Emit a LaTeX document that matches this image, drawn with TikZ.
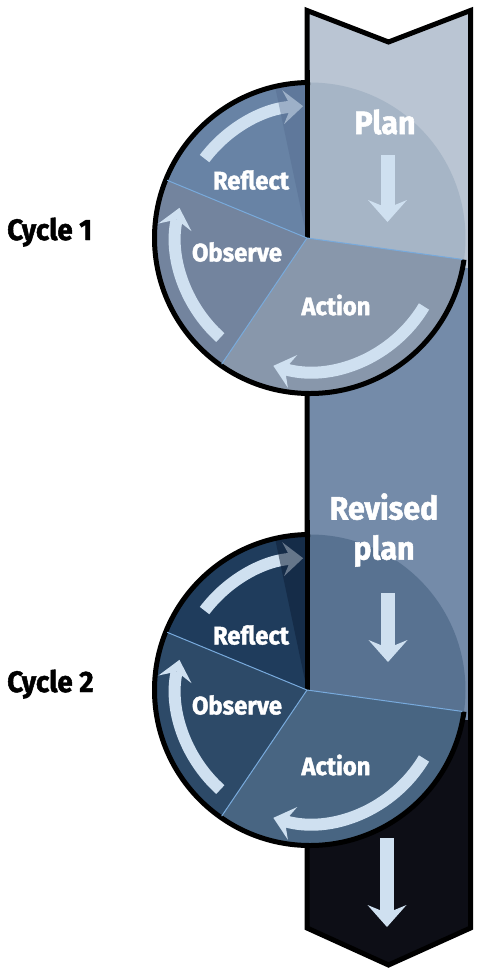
\documentclass[tikz,border=0pt]{standalone}
\usepackage{fontspec}
\setmainfont{Fira Sans}[BoldFeatures={FakeBold=1.6,FakeStretch=0.94}]
\usetikzlibrary{arrows.meta,calc}
\definecolor{bandtop}{RGB}{186,197,211}
\definecolor{bandmid}{RGB}{116,139,169}
\definecolor{bandlow}{RGB}{13,14,22}
\definecolor{planA}{RGB}{166,181,198}
\definecolor{reflectA}{RGB}{104,131,165}
\definecolor{observeA}{RGB}{115,132,158}
\definecolor{actionA}{RGB}{136,151,171}
\definecolor{shadeA}{RGB}{82,105,140}
\definecolor{planB}{RGB}{88,114,145}
\definecolor{reflectB}{RGB}{31,60,92}
\definecolor{observeB}{RGB}{45,74,104}
\definecolor{actionB}{RGB}{72,101,130}
\definecolor{shadeB}{RGB}{14,31,56}
\definecolor{arrowblue}{RGB}{207,224,240}
\definecolor{splitblue}{RGB}{120,170,220}

\begin{document}
\begin{tikzpicture}[x=0.25mm,y=0.25mm,
    ring/.style={line width=1.25mm,line join=miter},
    split/.style={draw=splitblue,line width=0.25mm},
    bendarr/.style={draw=arrowblue,line width=3mm,
      -{Stealth[length=5mm,width=8.5mm,inset=2mm,line width=0pt]}},
    downarr/.style={draw=arrowblue,line width=3.5mm,
      -{Stealth[length=5.5mm,width=9.75mm,inset=2mm,line width=0pt]}},
    lbl/.style={text=white,font=\bfseries\fontsize{18}{20}\selectfont,inner sep=0pt},
    big/.style={text=white,font=\bfseries\fontsize{23}{28.5}\selectfont,
      align=center,inner sep=0pt},
    cyc/.style={text=black,font=\bfseries\fontsize{21}{24}\selectfont,
      anchor=base west,inner sep=0pt}]
  \useasboundingbox (0,0) rectangle (478,-970);
  %% band
  \fill[bandtop] (307,-10.5) -- (388.5,-42) -- (470.5,-10.5) -- (470.5,-268) -- (307,-268) -- cycle;
  \fill[bandmid] (307,-268) rectangle (470.5,-720);
  \fill[bandlow] (307,-720) -- (470.5,-720) -- (470.5,-928) -- (388.5,-965) -- (307,-928) -- cycle;
  \draw[ring] (307,-10.5) -- (388.5,-42) -- (470.5,-10.5) -- (470.5,-928)
    -- (388.5,-965) -- (307,-928) -- cycle;
  %% Cycle 1
  \coordinate (c1) at (310,-238);
  \coordinate (hub1) at (307,-238);
  \fill[planA] (hub1) -- ($(c1)+(-8:155.5)$) arc[start angle=-8,end angle=90,radius=155.5] -- cycle;
  \fill[reflectA] (hub1) -- ($(c1)+(90:155.5)$) arc[start angle=90,end angle=158,radius=155.5] -- cycle;
  \fill[observeA] (hub1) -- ($(c1)+(158:155.5)$) arc[start angle=158,end angle=235,radius=155.5] -- cycle;
  \fill[actionA] (hub1) -- ($(c1)+(235:155.5)$) arc[start angle=235,end angle=352,radius=155.5] -- cycle;
  \draw[bendarr] ($(c1)+(143:132)$) arc[start angle=143,end angle=93,radius=132];
  \draw[bendarr] ($(c1)+(228:134)$) arc[start angle=228,end angle=167,radius=134];
  \draw[bendarr] ($(c1)+(-31:133)$) arc[start angle=-31,end angle=-106,radius=133];
  \fill[shadeA,fill opacity=.4] (hub1) -- ($(c1)+(90:155.5)$) arc[start angle=90,end angle=103,radius=155.5] -- cycle;
  \draw[ring] ($(c1)+(90:155.5)$) arc[start angle=90,end angle=352,radius=155.5];
  \draw[ring] (hub1) -- (307,-70);
  \draw[split] (hub1) -- ($(c1)+(158:154)$);
  \draw[split] (hub1) -- ($(c1)+(235:154)$);
  \draw[split] (hub1) -- ($(c1)+(-8:154)$);
  \draw[downarr] (387.5,-155) -- (387.5,-222);
  \node[big] (plan1) at (385,-122) {Plan};
  \node[lbl] (reflect1) at (251,-180) {Reflect};
  \node[lbl] (observe1) at (237,-252) {Observe};
  \node[lbl] (action1) at (336,-305) {Action};
  \node[cyc] (cycle1) at (7,-240) {Cycle 1};
  %% Cycle 2
  \coordinate (c2) at (310,-690);
  \coordinate (hub2) at (307,-690);
  \fill[planB] (hub2) -- ($(c2)+(-8:155.5)$) arc[start angle=-8,end angle=90,radius=155.5] -- cycle;
  \fill[reflectB] (hub2) -- ($(c2)+(90:155.5)$) arc[start angle=90,end angle=158,radius=155.5] -- cycle;
  \fill[observeB] (hub2) -- ($(c2)+(158:155.5)$) arc[start angle=158,end angle=235,radius=155.5] -- cycle;
  \fill[actionB] (hub2) -- ($(c2)+(235:155.5)$) arc[start angle=235,end angle=352,radius=155.5] -- cycle;
  \draw[bendarr] ($(c2)+(143:132)$) arc[start angle=143,end angle=93,radius=132];
  \draw[bendarr] ($(c2)+(228:134)$) arc[start angle=228,end angle=167,radius=134];
  \draw[bendarr] ($(c2)+(-31:133)$) arc[start angle=-31,end angle=-106,radius=133];
  \fill[shadeB,fill opacity=.55] (hub2) -- ($(c2)+(90:155.5)$) arc[start angle=90,end angle=103,radius=155.5] -- cycle;
  \draw[ring] ($(c2)+(90:155.5)$) arc[start angle=90,end angle=352,radius=155.5];
  \draw[ring] (hub2) -- (307,-520);
  \draw[split] (hub2) -- ($(c2)+(158:154)$);
  \draw[split] (hub2) -- ($(c2)+(235:154)$);
  \draw[split] (hub2) -- ($(c2)+(-8:154)$);
  \draw[downarr] (388,-593) -- (388,-662);
  \node[big] (plan2) at (384,-530) {Revised\\plan};
  \node[lbl] (reflect2) at (251,-635) {Reflect};
  \node[lbl] (observe2) at (237,-705) {Observe};
  \node[lbl] (action2) at (336,-765) {Action};
  \node[cyc] (cycle2) at (7,-692) {Cycle 2};
  %% exit arrow
  \draw[downarr] (387,-838) -- (387,-927);
\end{tikzpicture}
\end{document}
